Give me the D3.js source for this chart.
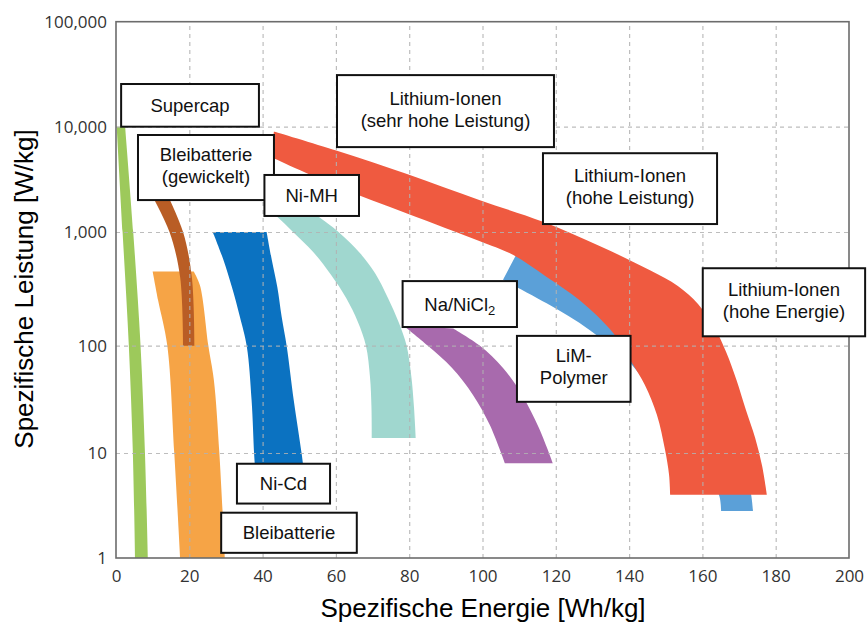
<!DOCTYPE html>
<html>
<head>
<meta charset="utf-8">
<script src="https://cdn.jsdelivr.net/npm/d3@7"></script>
<style>
  body { margin: 0; background: #fff; }
  svg { display: block; }
</style>
</head>
<body>
<svg id="chart" width="867" height="625"></svg>
<script>
// Ragone diagram: specific power vs. specific energy of storage technologies

// Axis ticks
const energyTicks = [0, 20, 40, 60, 80, 100, 120, 140, 160, 180, 200];
const powerTicks = [1, 10, 100, 1000, 10000, 100000];
const powerTickLabels = ["1", "10", "100", "1,000", "10,000", "100,000"];

// Band outlines, points are [specific energy Wh/kg, specific power W/kg]
const supercapLeft  = [[0.2, 10000], [1.8, 1000], [3.5, 100], [4.6, 10], [5.2, 1]];
const supercapRight = [[2.5, 10000], [4.7, 1000], [6.7, 100], [7.9, 10], [8.7, 1]];

const leadLeft  = [[10.0, 450], [11.5, 250], [14.0, 100], [15.9, 10], [17.5, 1]];
const leadRight = [[21.2, 450], [22.9, 340], [25.2, 100], [26.7, 48], [28.2, 10], [29.7, 1]];

const leadWoundLeft  = [[9.9, 2200], [14.6, 1000], [17.5, 400], [18.3, 100]];
const leadWoundRight = [[14.2, 2200], [18.3, 1000], [20.7, 400], [21.4, 100]];

const niCdLeft  = [[26.4, 1000], [29.3, 570], [31.6, 330], [33.8, 180], [35.7, 98], [37.0, 31], [37.7, 9.6], [38.1, 6]];
const niCdRight = [[41.1, 1000], [42.5, 570], [44.0, 330], [45.2, 180], [46.6, 98], [48.5, 31], [50.7, 9.6], [51.4, 6]];

const niMhLeft  = [[42.0, 1600], [43.9, 1400], [48.3, 1000], [53.8, 667], [58.7, 419], [62.8, 263], [66.0, 162], [68.2, 100], [69.3, 51], [69.7, 26.8], [69.8, 13.8]];
const niMhRight = [[53.1, 1600], [55.2, 1400], [60.7, 1000], [66.6, 650], [70.7, 433], [74.2, 263], [77.1, 162], [79.3, 100], [80.6, 51], [81.3, 26.8], [81.8, 13.8]];

const naNiClLeft  = [[78.5, 150], [85.1, 100], [91.7, 62], [97.4, 34.8], [102.0, 18.2], [106.1, 8.0]];
const naNiClRight = [[92.0, 142], [99.3, 100], [105.6, 62], [110.8, 34.8], [115.4, 17.1], [119.2, 8.0]];

const limPolymerInner = [[105.6, 380], [117.5, 236], [129.3, 137], [140.8, 66], [152.5, 16], [160.7, 6.2], [164.5, 4.0], [165.1, 2.8]];
const limPolymerOuter = [[109.4, 650], [121.1, 567], [132.0, 445], [143.0, 290], [151.2, 168], [159.3, 78], [164.8, 31], [168.9, 13], [171.7, 6.9], [173.3, 4.0], [173.8, 2.8]];

const liIonOuter = [[43.1, 9000], [60.3, 5900], [79.4, 3550], [99.3, 2000], [116.5, 1250], [132.1, 750], [145.7, 460], [153.3, 335], [158.8, 233], [163.2, 146], [166.5, 87], [169.3, 48], [171.9, 25], [174.4, 13.8], [176.3, 7.5], [177.6, 4]];
const liIonInner = [[42.0, 5200], [60.3, 2700], [79.4, 1500], [99.3, 830], [108.3, 630], [117.6, 400], [126.6, 250], [135.6, 130], [140.8, 69], [144.3, 43], [147.6, 22.6], [149.8, 10.7], [150.9, 6.2], [151.2, 4]];

// Label texts and the data-space corners of their boxes [e0, p0, e1, p1]
const labelTexts = [
  ["Supercap"],
  ["Bleibatterie", "(gewickelt)"],
  ["Ni-MH"],
  ["Lithium-Ionen", "(sehr hohe Leistung)"],
  ["Lithium-Ionen", "(hohe Leistung)"],
  ["Lithium-Ionen", "(hohe Energie)"],
  ["Na/NiCl_2"],
  ["LiM-", "Polymer"],
  ["Ni-Cd"],
  ["Bleibatterie"]
];
const labelCorners = [
  [1.4, 25500, 39.0, 10000],
  [6.0, 8340, 43.1, 2010],
  [40.5, 3480, 66.3, 1420],
  [60.3, 31000, 119.5, 6400],
  [116.5, 5600, 164.0, 1190],
  [160.1, 480, 204.4, 121],
  [78.2, 370, 109.4, 146],
  [109.4, 122, 140.4, 30],
  [33.0, 7.9, 58.4, 3.3],
  [28.7, 2.7, 65.7, 1.12]
];

// Drawing order (later bands lie on top)
const bands = [
  { left: supercapLeft,    right: supercapRight,   color: "#9dc95b" },
  { left: leadLeft,        right: leadRight,       color: "#f6a446" },
  { left: leadWoundLeft,   right: leadWoundRight,  color: "#b95d25" },
  { left: niCdLeft,        right: niCdRight,       color: "#0b72c1" },
  { left: niMhLeft,        right: niMhRight,       color: "#a0d7cf" },
  { left: naNiClLeft,      right: naNiClRight,     color: "#a86aad" },
  { left: limPolymerInner, right: limPolymerOuter, color: "#5ba0d8" },
  { left: liIonInner,      right: liIonOuter,      color: "#ef5a40" }
];

// Layout: plot frame and the vertical position of each power decade
const plot = { left: 116, right: 849, top: 21.7, bottom: 558 };
const decadeY = [558, 453, 345.7, 232, 126.7, 21.7];
const svg = d3.select("#chart");

const x = d3.scaleLinear().domain([0, 200]).range([plot.left, plot.right]);
const y = d3.scaleLog().domain(powerTicks).range(decadeY);

// Bands
const edge = d3.line()
  .x(d => x(d[0]))
  .y(d => y(d[1]))
  .curve(d3.curveCatmullRom.alpha(0.5));

function bandPath(a, b) {
  return edge(a) + edge(b.slice().reverse()).replace(/^M/, "L") + "Z";
}

svg.append("g").attr("class", "bands")
  .selectAll("path")
  .data(bands)
  .join("path")
  .attr("d", d => bandPath(d.left, d.right))
  .attr("fill", d => d.color);

// Dashed grid drawn over the bands
const gridV = svg.append("g")
  .attr("transform", `translate(0,${plot.bottom})`)
  .call(d3.axisBottom(x)
    .tickValues(energyTicks.filter(v => v > 0 && v < 200))
    .tickSize(-(plot.bottom - plot.top))
    .tickFormat(""));
const gridH = svg.append("g")
  .attr("transform", `translate(${plot.left},0)`)
  .call(d3.axisLeft(y)
    .tickValues(powerTicks.filter(v => v > 1 && v < 100000))
    .tickSize(-(plot.right - plot.left))
    .tickFormat(""));
[gridV, gridH].forEach(g => {
  g.select(".domain").remove();
  g.selectAll("line")
    .attr("stroke", "#b2b2b2")
    .attr("stroke-opacity", 0.85)
    .attr("stroke-width", 1.2)
    .attr("stroke-dasharray", "4,4");
});

// Frame
svg.append("rect")
  .attr("x", plot.left)
  .attr("y", plot.top)
  .attr("width", plot.right - plot.left)
  .attr("height", plot.bottom - plot.top)
  .attr("fill", "none")
  .attr("stroke", "#6c6c6c")
  .attr("stroke-width", 1.6);

// Tick labels
const tickFont = "'Open Sans', 'DejaVu Sans', sans-serif";
const xAxis = svg.append("g")
  .attr("transform", `translate(0,${plot.bottom})`)
  .call(d3.axisBottom(x).tickValues(energyTicks).tickSize(0).tickPadding(12).tickFormat(d3.format("d")));
const yAxis = svg.append("g")
  .attr("transform", `translate(${plot.left},0)`)
  .call(d3.axisLeft(y).tickValues(powerTicks).tickSize(0).tickPadding(9)
    .tickFormat(d => powerTickLabels[powerTicks.indexOf(d)]));
[xAxis, yAxis].forEach(g => {
  g.select(".domain").remove();
  g.selectAll("text")
    .attr("font-family", tickFont)
    .attr("font-size", 17)
    .attr("fill", "#333");
});

// Axis titles
const titleFont = "'Liberation Sans', Arial, sans-serif";
svg.append("text")
  .attr("x", 483)
  .attr("y", 617)
  .attr("text-anchor", "middle")
  .attr("font-family", titleFont)
  .attr("font-size", 26)
  .attr("fill", "#000")
  .text("Spezifische Energie [Wh/kg]");
svg.append("text")
  .attr("transform", "translate(33,289) rotate(-90)")
  .attr("text-anchor", "middle")
  .attr("font-family", titleFont)
  .attr("font-size", 26)
  .attr("fill", "#000")
  .text("Spezifische Leistung [W/kg]");

// Label boxes
const labels = svg.append("g").attr("class", "labels");
labelTexts.forEach((lines, i) => {
  const [e0, p0, e1, p1] = labelCorners[i];
  const bx = x(e0), by = y(p0), bw = x(e1) - x(e0), bh = y(p1) - y(p0);
  const g = labels.append("g");
  g.append("rect")
    .attr("x", bx).attr("y", by)
    .attr("width", bw).attr("height", bh)
    .attr("fill", "#fff")
    .attr("stroke", "#111")
    .attr("stroke-width", 2);
  const cx = bx + bw / 2, cy = by + bh / 2;
  const baselines = lines.length === 1 ? [cy + 6.5] : [cy - 6.5, cy + 15.5];
  lines.forEach((line, j) => {
    const t = g.append("text")
      .attr("x", cx)
      .attr("y", baselines[j])
      .attr("text-anchor", "middle")
      .attr("font-family", titleFont)
      .attr("font-size", 18.5)
      .attr("fill", "#111");
    const parts = line.split("_");
    t.append("tspan").text(parts[0]);
    if (parts.length > 1) {
      t.append("tspan").attr("font-size", 13).attr("dy", 4).text(parts[1]);
    }
  });
});
</script>
</body>
</html>
